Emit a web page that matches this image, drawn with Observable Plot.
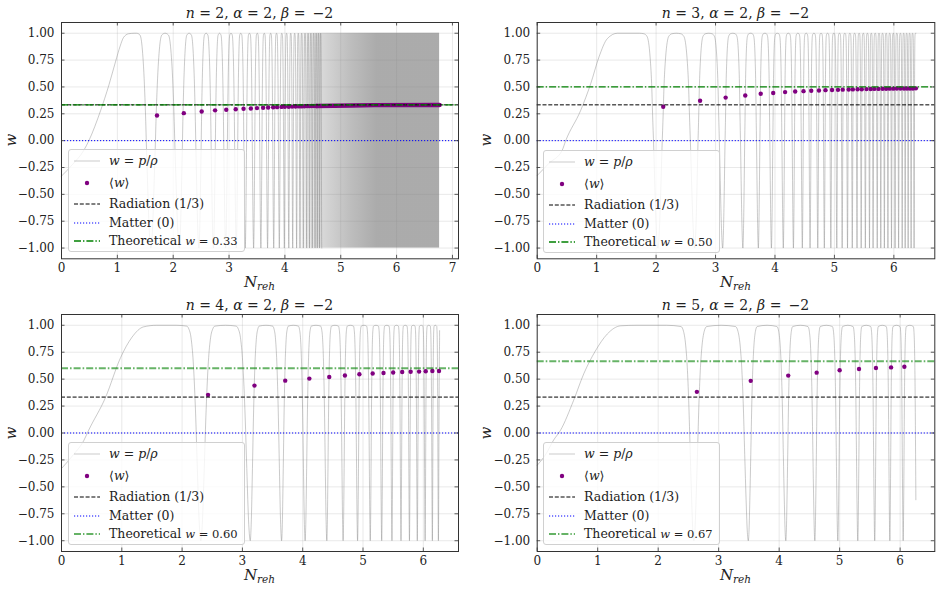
<!DOCTYPE html>
<html>
<head>
<meta charset="utf-8">
<script src="https://cdn.jsdelivr.net/npm/d3@7"></script>
<script src="https://cdn.jsdelivr.net/npm/@observablehq/plot@0.6"></script>
<style>
  body { margin: 0; background: #fff; }
  #fig { position: relative; width: 941px; height: 590px; font-family: "DejaVu Serif", serif; color: #222; overflow: hidden; }
  #fig > svg { position: absolute; }
  .title, .xlab, .ylab { position: absolute; white-space: nowrap; line-height: 18px; }
  .title { font-size: 14px; transform: translateX(-50%); }
  .xlab { font-size: 15px; transform: translateX(-50%); }
  .xlab sub { font-size: 10.5px; vertical-align: -3px; }
  .ylab { font-size: 15px; transform: translate(-50%, -50%) rotate(-90deg); }
  .legend { position: absolute; height: 103px; box-sizing: border-box; border: 1px solid #d0d0d0; border-radius: 3px; background: rgba(255,255,255,0.8); font-size: 12.5px; padding-right: 6px; }
  .legend .row { position: absolute; left: 0; height: 18px; line-height: 18px; white-space: nowrap; }
  .legend .row > svg { position: absolute; left: 4px; top: 0; }
  .legend .row > span { position: absolute; left: 40px; top: 0; }
  .legend .sizer { visibility: hidden; padding-left: 40px; line-height: 18px; white-space: nowrap; }
  .m { font-size: 0.92em; }
</style>
</head>
<body>
<div id="fig"></div>
<script>
// Oscillator index n of V ~ phi^(2n); alpha and beta are shared by all runs
const panelN = [2, 3, 4, 5];
const alphaVal = 2;
const betaVal = -2;

// Reference equations of state
const radiationW = 1 / 3;
const matterW = 0;
const theoryW = [1 / 3, 1 / 2, 3 / 5, 2 / 3];

const yTicks = [-1, -0.75, -0.5, -0.25, 0, 0.25, 0.5, 0.75, 1];

// Early evolution of w before the first turning point, [N_reh, w]
const start1 = [[0, -0.33], [0.2, -0.22], [0.4, -0.09], [0.49, 0], [0.7, 0.28], [0.85, 0.52], [0.97, 0.74], [1.05, 0.88], [1.11, 0.96], [1.2, 0.995], [1.3, 1]];
const start2 = [[0, -0.325], [0.2, -0.21], [0.42, -0.09], [0.48, 0], [0.73, 0.28], [0.9, 0.53], [1.04, 0.78], [1.18, 0.95], [1.35, 1]];
const start3 = [[0, -0.33], [0.2, -0.2], [0.37, -0.07], [0.45, 0.025], [0.73, 0.33], [0.98, 0.7], [1.17, 0.89], [1.36, 0.985], [1.58, 1]];
const start4 = [[0, -0.3], [0.15, -0.19], [0.27, -0.067], [0.385, 0.025], [0.6, 0.3], [0.77, 0.55], [0.96, 0.76], [1.16, 0.92], [1.38, 0.995], [1.65, 1]];

// N_reh of each turning point of the field (w = -1)
const troughs1 = [1.60, 2.11, 2.46, 2.72, 2.94, 3.13, 3.29, 3.44, 3.57, 3.69, 3.80, 3.90, 3.99, 4.07, 4.14, 4.21, 4.27, 4.33, 4.39, 4.44, 4.49, 4.54, 4.58, 4.62, 4.66];
const troughs2 = [2.03, 2.65, 3.12, 3.46, 3.72, 3.94, 4.14, 4.31, 4.46, 4.59, 4.72, 4.83, 4.94, 5.04, 5.13, 5.22, 5.30, 5.38, 5.45, 5.52, 5.59, 5.65, 5.72, 5.78, 5.84, 5.90, 5.96, 6.02, 6.08, 6.14, 6.19, 6.24, 6.29, 6.34];
const troughs3 = [2.31, 3.13, 3.65, 4.04, 4.40, 4.67, 4.91, 5.12, 5.31, 5.48, 5.63, 5.77, 5.90, 6.03, 6.15, 6.25];
const troughs4 = [2.59, 3.49, 4.11, 4.59, 4.97, 5.30, 5.58, 5.83, 6.05];

// Last sample of each run, [N_reh, w]
const end1 = [6.77, null];
const end2 = [6.37, 1.0];
const end3 = [6.27, 0.95];
const end4 = [6.26, -0.62];

// Shape of w over half an oscillation: [phase from turning point, w]
const profile2 = [[0, -1], [0.038, -0.92], [0.067, -0.77], [0.125, -0.31], [0.157, -0.04], [0.18, 0.18], [0.226, 0.52], [0.308, 0.875], [0.385, 0.984], [0.5, 1]];
const profile3 = [[0, -1], [0.048, -0.77], [0.078, -0.47], [0.113, -0.06], [0.144, 0.25], [0.164, 0.48], [0.209, 0.77], [0.294, 0.97], [0.38, 0.995], [0.5, 1]];
const profile4 = [[0, -1], [0.03, -0.85], [0.07, -0.33], [0.102, 0.14], [0.153, 0.66], [0.198, 0.885], [0.242, 0.966], [0.285, 0.992], [0.5, 1]];
const profile5 = [[0, -1], [0.02, -0.9], [0.04, -0.63], [0.066, -0.2], [0.095, 0.3], [0.121, 0.61], [0.145, 0.785], [0.19, 0.944], [0.235, 0.988], [0.5, 1]];

// Cycle-averaged equation of state <w>, [N_reh, <w>]
const avg1 = [[1.71, 0.234], [2.19, 0.256], [2.51, 0.271], [2.75, 0.282], [2.95, 0.287], [3.12, 0.293], [3.26, 0.297], [3.39, 0.300], [3.50, 0.303], [3.61, 0.306], [3.70, 0.309], [3.79, 0.311], [3.86, 0.312], [3.94, 0.314], [4.00, 0.315], [4.07, 0.316], [4.13, 0.317], [4.19, 0.318], [4.25, 0.319], [4.30, 0.319], [4.35, 0.320], [4.40, 0.321], [4.44, 0.321], [4.48, 0.322], [4.52, 0.322], [4.56, 0.323]];
const avg2 = [[2.12, 0.316], [2.74, 0.371], [3.17, 0.401], [3.50, 0.421], [3.76, 0.436], [3.97, 0.444], [4.17, 0.452], [4.34, 0.458], [4.48, 0.461], [4.61, 0.464], [4.74, 0.467], [4.85, 0.470], [4.96, 0.472], [5.06, 0.473], [5.14, 0.475], [5.24, 0.476], [5.31, 0.477], [5.39, 0.478], [5.46, 0.479], [5.54, 0.480], [5.61, 0.481], [5.67, 0.482], [5.74, 0.482], [5.81, 0.483], [5.87, 0.483], [5.93, 0.484], [5.99, 0.484], [6.05, 0.485], [6.11, 0.485], [6.17, 0.485], [6.22, 0.486], [6.27, 0.486], [6.32, 0.486], [6.37, 0.487]];
const avg3 = [[2.43, 0.354], [3.20, 0.440], [3.71, 0.486], [4.11, 0.505], [4.44, 0.520], [4.70, 0.534], [4.94, 0.545], [5.16, 0.552], [5.34, 0.557], [5.50, 0.562], [5.65, 0.566], [5.79, 0.569], [5.93, 0.570], [6.04, 0.573], [6.15, 0.575], [6.26, 0.576]];
const avg4 = [[2.64, 0.382], [3.53, 0.484], [4.15, 0.533], [4.62, 0.560], [5.00, 0.582], [5.32, 0.594], [5.60, 0.603], [5.85, 0.609], [6.07, 0.615]];

// n = 2: oscillations too fast to resolve; averages merge into a band
const avgBand1 = [[4.56, 0.323], [5.2, 0.327], [5.6, 0.331], [6.77, 0.332]];
const denseN1 = [4.2, 4.66, 5.2, 5.65, 6.77];

const runs = [
  {start: start1, troughs: troughs1, end: end1, profile: profile2, avg: avg1},
  {start: start2, troughs: troughs2, end: end2, profile: profile3, avg: avg2},
  {start: start3, troughs: troughs3, end: end3, profile: profile4, avg: avg3},
  {start: start4, troughs: troughs4, end: end4, profile: profile5, avg: avg4}
];

// Trace w(N) through the turning points, one profile per oscillation
function buildCurve(run) {
  const half = run.profile;
  const full = half.concat(half.slice(0, -1).reverse().map(([p, w]) => [1 - p, w]));
  const tr = run.troughs;
  const pts = [];
  const T0 = tr[1] - tr[0];
  const cut = tr[0] - T0 / 2;
  for (const [N, w] of run.start) if (N < cut) pts.push({N, w});
  for (const [p, w] of full) if (p >= 0.5) pts.push({N: tr[0] - T0 + p * T0, w});
  for (let i = 0; i < tr.length - 1; i++) {
    const a = tr[i], T = tr[i + 1] - a;
    for (const [p, w] of full) if (p > 0) pts.push({N: a + p * T, w});
  }
  if (run.end[1] !== null) {
    const last = tr[tr.length - 1], T = last - tr[tr.length - 2];
    for (const [p, w] of full) if (p > 0 && last + p * T < run.end[0]) pts.push({N: last + p * T, w});
    pts.push({N: run.end[0], w: run.end[1]});
  }
  return pts;
}

const fmtW = d => d.toFixed(2).replace("-", "\u2212");
const fig = document.getElementById("fig");

runs.forEach((run, i) => {
  const col = i % 2, row = Math.floor(i / 2);
  const left = col === 0 ? 0 : 470;
  const top = row === 0 ? 0 : 295;
  const W = col === 0 ? 470 : 471, H = 295;
  const mL = col === 0 ? 61 : 66.7, mR = col === 0 ? 12 : 6.7;
  const mT = row === 0 ? 22 : 19, mB = row === 0 ? 36.7 : 39;
  const fw = W - mL - mR, fh = H - mT - mB;
  const xmax = 1.05 * run.end[0];
  const xTicks = d3.range(0, Math.floor(xmax) + 1);
  const curve = buildCurve(run);
  const light = i >= 2;

  const marks = [
    Plot.ruleX(xTicks, {stroke: "#b0b0b0", strokeOpacity: 0.35, strokeWidth: 0.8}),
    Plot.ruleY(yTicks, {stroke: "#b0b0b0", strokeOpacity: 0.35, strokeWidth: 0.8})
  ];
  if (i === 0) {
    marks.push(Plot.rect([{N0: denseN1[0], N1: denseN1[denseN1.length - 1], lo: -1, hi: 1}],
      {x1: "N0", x2: "N1", y1: "lo", y2: "hi", fill: "#999"}));
  }
  marks.push(Plot.line(curve, {x: "N", y: "w", stroke: "gray", strokeOpacity: 0.6, strokeWidth: 0.7, curve: "monotone-x"}));
  if (i === 0) {
    marks.push(Plot.line(avgBand1, {x: d => d[0], y: d => d[1], stroke: "purple", strokeWidth: 4.4, strokeLinecap: "round"}));
  }
  marks.push(
    Plot.dot(run.avg, {x: d => d[0], y: d => d[1], r: 2.2, fill: "purple", stroke: "none"}),
    Plot.ruleY([radiationW], {stroke: "black", strokeWidth: 1, strokeDasharray: "4,1.8"}),
    Plot.ruleY([matterW], {stroke: "blue", strokeWidth: 1, strokeDasharray: "1.2,1.8"}),
    Plot.ruleY([theoryW[i]], {stroke: "green", strokeOpacity: light ? 0.6 : 1, strokeWidth: light ? 2 : 1.3, strokeDasharray: light ? "7,2,1.6,2" : "7,2,1.4,2"}),
    Plot.frame({stroke: "#333", strokeWidth: 1}),
    Plot.ruleX(xTicks, {stroke: "#333", strokeWidth: 0.8, insetTop: fh - 3.5}),
    Plot.ruleX(xTicks, {stroke: "#333", strokeWidth: 0.8, insetBottom: fh - 3.5}),
    Plot.ruleY(yTicks, {stroke: "#333", strokeWidth: 0.8, insetRight: fw - 3.5}),
    Plot.ruleY(yTicks, {stroke: "#333", strokeWidth: 0.8, insetLeft: fw - 3.5})
  );

  const svg = Plot.plot({
    width: W, height: H,
    marginLeft: mL, marginRight: mR, marginTop: mT, marginBottom: mB,
    style: {fontFamily: "DejaVu Serif", fontSize: "12px", color: "#222", background: "transparent", overflow: "visible"},
    x: {domain: [0, xmax], ticks: xTicks, tickSize: 0, tickPadding: 5, tickFormat: d => String(d), label: null},
    y: {domain: [-1.1, 1.1], ticks: yTicks, tickSize: 0, tickPadding: 7, tickFormat: fmtW, label: null},
    marks
  });
  svg.style.left = left + "px";
  svg.style.top = top + "px";
  fig.appendChild(svg);

  if (i === 0) {
    // fade the unresolved oscillations in as they crowd together
    const shade = [0, 0.3, 0.52, 0.66, 0.66];
    const n0 = denseN1[0], n1 = denseN1[denseN1.length - 1];
    const grad = d3.select(svg).insert("defs", ":first-child")
      .append("linearGradient").attr("id", "dense-fade").attr("x1", 0).attr("x2", 1).attr("y1", 0).attr("y2", 0);
    denseN1.forEach((n, k) => grad.append("stop")
      .attr("offset", (n - n0) / (n1 - n0)).attr("stop-color", "gray").attr("stop-opacity", shade[k]));
    d3.select(svg).selectAll("[fill='#999']").attr("fill", "url(#dense-fade)");
  }

  const cx = left + mL + fw / 2;
  const title = document.createElement("div");
  title.className = "title";
  title.style.left = cx + "px";
  title.style.top = (row === 0 ? 4 : 296) + "px";
  title.innerHTML = `<i>n</i> = ${panelN[i]}, <i>\u03b1</i> = ${alphaVal}, <i>\u03b2</i> = \u2009${String(betaVal).replace("-", "\u2212")}`;
  fig.appendChild(title);

  const xl = document.createElement("div");
  xl.className = "xlab";
  xl.style.left = cx + "px";
  xl.style.top = (row === 0 ? 273 : 566) + "px";
  xl.innerHTML = `<i>N</i><sub><i>reh</i></sub>`;
  fig.appendChild(xl);

  const yl = document.createElement("div");
  yl.className = "ylab";
  yl.style.left = (col === 0 ? 11 : 486) + "px";
  yl.style.top = (top + mT + fh / 2) + "px";
  yl.innerHTML = `<i>w</i>`;
  fig.appendChild(yl);

  // legend
  const lg = document.createElement("div");
  lg.className = "legend";
  lg.style.left = (col === 0 ? 68 : 543) + "px";
  lg.style.top = (row === 0 ? 149 + (col ? 1 : 0) : 442) + "px";
  const green = light ? 'stroke="green" stroke-opacity="0.6" stroke-width="2"' : 'stroke="green" stroke-width="1.3"';
  const rows = [
    [11, `<line x1="1" x2="27" y1="9" y2="9" stroke="gray" stroke-opacity="0.35" stroke-width="1.2"/>`, `<i>w</i> = <i>p</i>/<i>\u03c1</i>`],
    [33, `<circle cx="14" cy="9" r="2.2" fill="purple"/>`, `\u27e8<i>w</i>\u27e9`],
    [54, `<line x1="1" x2="27" y1="9" y2="9" stroke="black" stroke-width="1" stroke-dasharray="4,1.8"/>`, `Radiation (1/3)`],
    [72.5, `<line x1="1" x2="27" y1="9" y2="9" stroke="blue" stroke-width="1" stroke-dasharray="1.2,1.8"/>`, `Matter (0)`],
    [91, `<line x1="1" x2="27" y1="9" y2="9" ${green} stroke-dasharray="7,2,1.4,2"/>`, `Theoretical <span class="m"><i>w</i> = ${theoryW[i].toFixed(2)}</span>`]
  ];
  let html = `<div class="sizer" style="margin-top:82px">${rows[4][2]}</div>`;
  for (const [cy, handle, label] of rows) {
    html += `<div class="row" style="top:${cy - 9}px"><svg width="30" height="18">${handle}</svg><span>${label}</span></div>`;
  }
  lg.innerHTML = html;
  fig.appendChild(lg);
});
</script>
</body>
</html>
